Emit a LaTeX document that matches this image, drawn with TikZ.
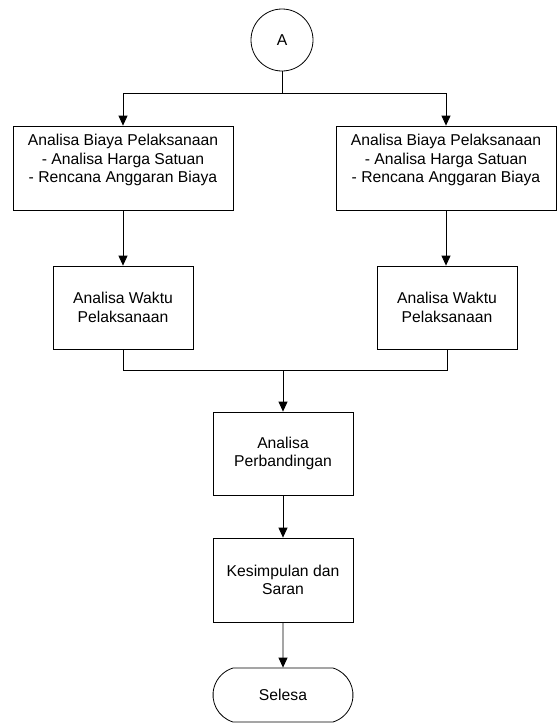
\documentclass[tikz,border=0pt]{standalone}
\usepackage{fontspec}
\setmainfont{Liberation Sans}
\usetikzlibrary{arrows.meta,shapes.misc}
\begin{document}
\begin{tikzpicture}[x=1pt,y=-1pt,
  every node/.style={font=\fontsize{15.7}{18.5}\selectfont, align=center, inner sep=0pt},
  box/.style={draw, line width=0.8pt, rectangle},
  line/.style={line width=0.8pt},
  arr/.style={line width=0.8pt, -{Triangle[width=9pt,length=10pt]}}]
\useasboundingbox (0,0) rectangle (557,724);
\node[draw, circle, line width=0.8pt, minimum size=62pt] (A) at (282,40) {A};
\node[box, minimum width=220pt, minimum height=84pt] (b1) at (123,168) {Analisa Biaya Pelaksanaan\\- Analisa Harga Satuan\\- Rencana Anggaran Biaya\\\mbox{}};
\node[box, minimum width=220pt, minimum height=84pt] (b2) at (446,168) {Analisa Biaya Pelaksanaan\\- Analisa Harga Satuan\\- Rencana Anggaran Biaya\\\mbox{}};
\node[box, minimum width=140pt, minimum height=83pt] (w1) at (123,307.5) {Analisa Waktu\\Pelaksanaan};
\node[box, minimum width=140pt, minimum height=83pt] (w2) at (447,307.5) {Analisa Waktu\\Pelaksanaan};
\node[box, minimum width=140pt, minimum height=83pt] (p) at (283,453.5) {Analisa\\Perbandingan};
\node[box, minimum width=140pt, minimum height=84pt] (k) at (283,580) {Kesimpulan dan\\Saran};
\node[draw, line width=0.8pt, rounded rectangle, rounded rectangle arc length=146, minimum width=140pt, minimum height=54pt] (s) at (283,695) {Selesa};
\coordinate (t) at (282,93);
\coordinate (m) at (283,370);
\draw[line] (A.south) -- (t);
\draw[arr] (t) -| (b1.north);
\draw[arr] (t) -| (b2.north);
\draw[arr] (b1.south) -- (b1.south |- w1.north);
\draw[arr] (b2.south) -- (b2.south |- w2.north);
\draw[line] (w1.south) |- (m);
\draw[line] (w2.south) |- (m);
\draw[arr] (m) -- (p.north);
\draw[arr] (p) -- (k);
\draw[arr] (k) -- (s);
\end{tikzpicture}
\end{document}
